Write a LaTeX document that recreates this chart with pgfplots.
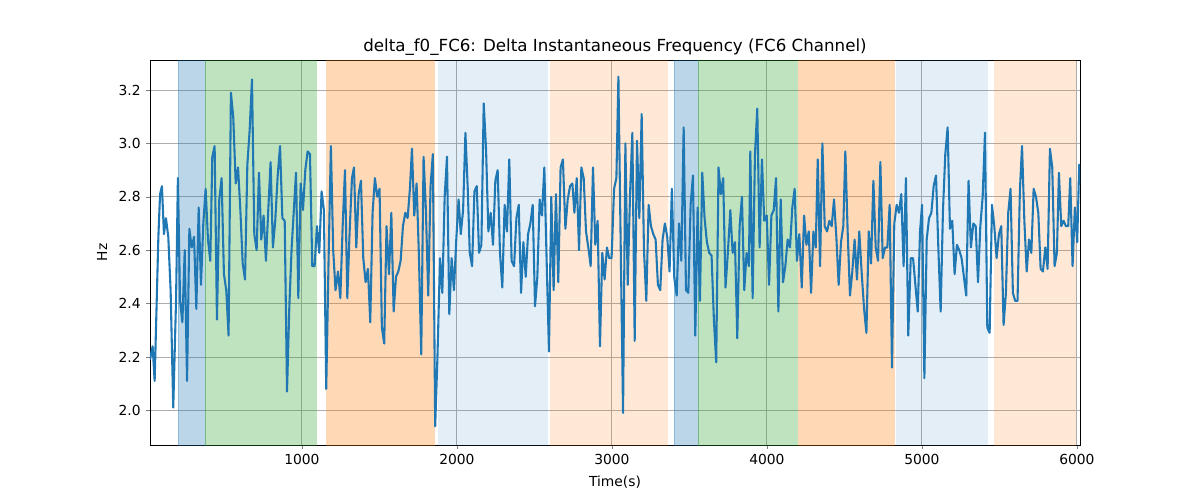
\documentclass[border=0pt]{standalone}
\usepackage{pgfplots}
\pgfplotsset{compat=1.18}
\usepackage{fontspec}
\setmainfont{DejaVu Sans}
\definecolor{tb}{HTML}{1F77B4}
\definecolor{tg}{HTML}{2CA02C}
\definecolor{to}{HTML}{FF7F0E}
\begin{document}
\begin{tikzpicture}
\begin{axis}[name=ax, scale only axis, width=558pt, height=231pt,
 xmin=20, xmax=6020, ymin=1.87, ymax=3.3125,
 xtick={1000,2000,3000,4000,5000,6000}, ytick={2.0,2.2,2.4,2.6,2.8,3.0,3.2},
 yticklabel style={/pgf/number format/.cd,fixed,fixed zerofill,precision=1},
 xticklabel style={/pgf/number format/1000 sep={}},
 /pgf/number format/assume math mode=true,
 tick label style={font=\fontsize{8.3}{10}\selectfont}, label style={font=\fontsize{8.3}{10}\selectfont},
 tick align=outside, tick pos=left, major tick length=2.1pt,
 grid=major, grid style={color=black!32, line width=0.5pt},
 axis line style={line width=0.5pt},
 xlabel={Time(s)}, ylabel={Hz},
 title={delta\_f0\_FC6: Delta Instantaneous Frequency (FC6 Channel)},
 title style={font=\fontsize{10}{12}\selectfont, yshift=-7pt},
 axis on top=false]
\addplot[fill=tb, fill opacity=0.3, draw=tb, draw opacity=0.3] coordinates {(200,1.8)(375,1.8)(375,3.4)(200,3.4)} --cycle;
\addplot[fill=tg, fill opacity=0.3, draw=tg, draw opacity=0.3] coordinates {(375,1.8)(1090,1.8)(1090,3.4)(375,3.4)} --cycle;
\addplot[fill=to, fill opacity=0.3, draw=to, draw opacity=0.3] coordinates {(1160,1.8)(1852,1.8)(1852,3.4)(1160,3.4)} --cycle;
\addplot[fill=tb, fill opacity=0.12, draw=none] coordinates {(1877,1.8)(2587,1.8)(2587,3.4)(1877,3.4)} --cycle;
\addplot[fill=to, fill opacity=0.17, draw=none] coordinates {(2600,1.8)(3361,1.8)(3361,3.4)(2600,3.4)} --cycle;
\addplot[fill=tb, fill opacity=0.3, draw=tb, draw opacity=0.3] coordinates {(3400,1.8)(3555,1.8)(3555,3.4)(3400,3.4)} --cycle;
\addplot[fill=tg, fill opacity=0.3, draw=tg, draw opacity=0.3] coordinates {(3555,1.8)(4194,1.8)(4194,3.4)(3555,3.4)} --cycle;
\addplot[fill=to, fill opacity=0.3, draw=to, draw opacity=0.3] coordinates {(4206,1.8)(4819,1.8)(4819,3.4)(4206,3.4)} --cycle;
\addplot[fill=tb, fill opacity=0.12, draw=none] coordinates {(4832,1.8)(5426,1.8)(5426,3.4)(4832,3.4)} --cycle;
\addplot[fill=to, fill opacity=0.17, draw=none] coordinates {(5465,1.8)(5994,1.8)(5994,3.4)(5465,3.4)} --cycle;
\addplot[color=tb, line width=1.25pt, line join=round] coordinates {
(20,2.19)(37,2.24)(50,2.11)(74,2.65)(85,2.81)(97,2.84)(110,2.66)(123,2.72)(138,2.65)(153,2.45)(170,2.01)(188,2.41)(200,2.87)(214,2.41)(229,2.33)(244,2.60)(259,2.11)(274,2.68)(289,2.61)(304,2.65)(319,2.38)(334,2.76)(349,2.47)(364,2.70)(379,2.83)(394,2.64)(409,2.56)(422,2.95)(437,2.99)(452,2.34)(467,2.79)(482,2.87)(497,2.51)(512,2.45)(527,2.28)(542,3.19)(557,3.10)(573,2.85)(588,2.91)(603,2.75)(618,2.55)(633,2.49)(648,2.92)(663,3.05)(678,3.24)(693,2.66)(708,2.60)(723,2.89)(738,2.64)(753,2.73)(768,2.56)(783,2.75)(798,2.93)(813,2.61)(828,2.71)(844,2.88)(859,2.99)(874,2.72)(889,2.71)(904,2.07)(919,2.39)(934,2.61)(949,2.76)(962,2.89)(977,2.42)(992,2.85)(1007,2.75)(1022,2.90)(1037,2.97)(1052,2.96)(1067,2.54)(1082,2.54)(1097,2.69)(1112,2.59)(1127,2.82)(1142,2.75)(1157,2.08)(1172,2.56)(1187,2.99)(1202,2.60)(1217,2.45)(1233,2.52)(1248,2.42)(1263,2.69)(1278,2.90)(1293,2.42)(1308,2.67)(1323,2.87)(1336,2.91)(1351,2.61)(1366,2.81)(1381,2.86)(1396,2.57)(1411,2.48)(1426,2.53)(1441,2.33)(1456,2.74)(1471,2.87)(1486,2.80)(1501,2.83)(1516,2.31)(1531,2.25)(1546,2.69)(1562,2.51)(1577,2.74)(1592,2.37)(1607,2.50)(1622,2.52)(1637,2.56)(1652,2.69)(1667,2.74)(1682,2.72)(1697,2.83)(1710,2.98)(1725,2.73)(1740,2.85)(1755,2.58)(1770,2.21)(1785,2.95)(1800,2.75)(1815,2.43)(1830,2.84)(1845,2.96)(1860,1.94)(1875,2.21)(1891,2.57)(1906,2.44)(1921,2.80)(1936,2.95)(1951,2.36)(1966,2.57)(1981,2.45)(1996,2.64)(2011,2.79)
(2025,2.66)(2040,2.75)(2055,3.04)(2070,2.83)(2083,2.59)(2098,2.54)(2113,2.82)(2128,2.84)(2143,2.59)(2158,2.62)(2173,3.15)(2188,2.98)(2203,2.67)(2218,2.74)(2233,2.62)(2248,2.86)(2263,2.90)(2278,2.59)(2293,2.46)(2308,2.77)(2323,2.67)(2338,2.94)(2353,2.56)(2369,2.54)(2384,2.72)(2399,2.77)(2414,2.44)(2429,2.63)(2444,2.50)(2459,2.66)(2474,2.70)(2489,2.77)(2504,2.39)(2519,2.50)(2534,2.79)(2549,2.73)(2564,2.91)(2579,2.56)(2594,2.22)(2609,2.80)(2624,2.45)(2639,2.81)(2654,2.48)(2669,2.91)(2684,2.94)(2700,2.68)(2715,2.79)(2730,2.84)(2745,2.85)(2758,2.74)(2773,2.87)(2788,2.60)(2803,2.91)(2818,2.87)(2833,2.67)(2848,2.61)(2863,2.54)(2878,2.91)(2893,2.62)(2908,2.71)(2923,2.24)(2938,2.59)(2953,2.49)(2968,2.61)(2983,2.57)(2998,2.57)(3014,2.83)(3029,2.87)(3042,3.25)(3057,2.61)(3072,1.99)(3087,3.00)(3102,2.47)(3117,2.81)(3132,3.04)(3147,2.26)(3162,3.01)(3177,2.72)(3192,3.11)(3207,2.60)(3222,2.41)(3237,2.77)(3252,2.69)(3267,2.66)(3282,2.64)(3297,2.47)(3312,2.45)(3327,2.64)(3342,2.70)(3357,2.65)(3372,2.52)(3387,2.83)(3402,2.50)(3418,2.43)(3433,2.70)(3448,2.56)(3463,3.06)(3478,2.45)(3493,2.44)(3508,2.77)(3523,2.88)(3538,2.28)(3553,2.76)(3568,2.41)(3583,2.89)(3598,2.72)(3613,2.63)(3628,2.59)(3643,2.58)(3658,2.34)(3673,2.18)(3688,2.91)(3703,2.81)(3718,2.87)(3733,2.46)(3748,2.59)(3764,2.75)(3779,2.59)(3794,2.63)(3809,2.27)(3824,2.69)(3839,2.80)(3854,2.45)(3869,2.59)(3884,2.54)(3893,2.97)(3908,2.42)(3923,2.96)(3938,3.13)(3953,2.61)(3968,2.94)(3983,2.71)
(3999,2.73)(4014,2.47)(4029,2.73)(4044,2.75)(4059,2.87)(4074,2.37)(4089,2.79)(4104,2.48)(4119,2.54)(4134,2.64)(4149,2.61)(4164,2.76)(4179,2.83)(4194,2.56)(4209,2.66)(4225,2.46)(4240,2.73)(4255,2.62)(4270,2.67)(4285,2.44)(4300,2.67)(4315,2.61)(4328,2.94)(4343,2.54)(4358,3.00)(4373,2.69)(4388,2.67)(4403,2.71)(4418,2.69)(4433,2.79)(4448,2.65)(4463,2.47)(4478,2.63)(4493,2.69)(4506,2.97)(4521,2.67)(4536,2.43)(4551,2.52)(4566,2.64)(4581,2.49)(4596,2.67)(4611,2.52)(4627,2.38)(4642,2.29)(4657,2.67)(4672,2.55)(4687,2.86)(4702,2.61)(4717,2.56)(4732,2.93)(4747,2.57)(4762,2.61)(4777,2.61)(4792,2.77)(4807,2.16)(4822,2.70)(4837,2.77)(4852,2.74)(4867,2.81)(4882,2.54)(4897,2.87)(4912,2.28)(4928,2.57)(4943,2.57)(4958,2.47)(4973,2.37)(4988,2.67)(5001,2.77)(5016,2.12)(5031,2.64)(5046,2.72)(5061,2.74)(5076,2.84)(5091,2.88)(5106,2.61)(5121,2.37)(5136,2.75)(5151,2.96)(5166,3.06)(5181,2.68)(5196,2.71)(5211,2.51)(5226,2.62)(5241,2.60)(5256,2.57)(5271,2.50)(5286,2.43)(5301,2.86)(5316,2.61)(5332,2.70)(5347,2.69)(5362,2.48)(5377,2.69)(5392,2.80)(5407,3.04)(5422,2.31)(5437,2.29)(5452,2.77)(5467,2.69)(5482,2.57)(5497,2.66)(5512,2.69)(5527,2.32)(5542,2.44)(5557,2.74)(5572,2.83)(5587,2.44)(5602,2.41)(5617,2.41)(5632,2.82)(5646,2.99)(5661,2.71)(5676,2.52)(5691,2.64)(5706,2.59)(5721,2.83)(5736,2.80)(5751,2.74)(5766,2.53)(5781,2.52)(5796,2.61)(5811,2.53)(5826,2.98)(5841,2.91)(5856,2.54)(5871,2.59)(5884,2.89)(5899,2.69)(5914,2.71)(5929,2.69)(5944,2.69)(5957,2.87)(5972,2.54)(5987,2.76)(6002,2.63)(6015,2.92)(6020,2.85)};
\end{axis}
\pgfresetboundingbox
\path ([shift={(-90pt,-33pt)}]ax.south west) rectangle ([shift={(630pt,267pt)}]ax.south west);
\end{tikzpicture}
\end{document}
